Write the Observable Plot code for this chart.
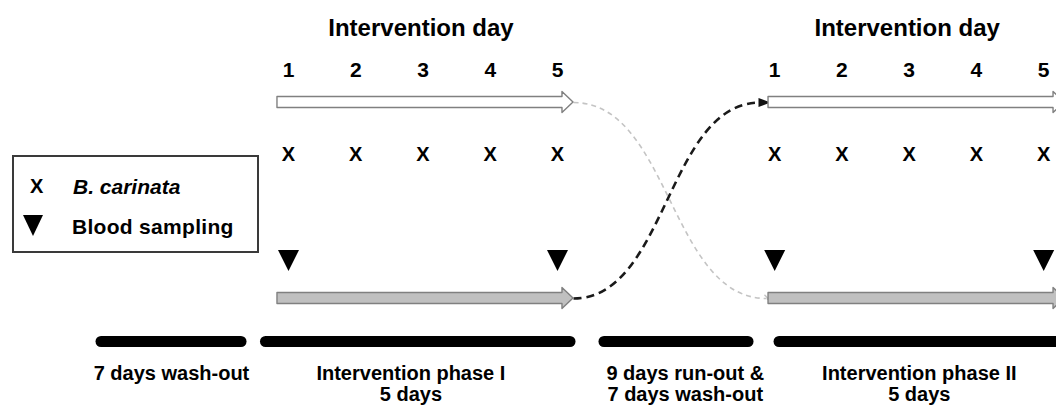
<!DOCTYPE html>
<html>
<head>
<meta charset="utf-8">
<script src="https://cdn.jsdelivr.net/npm/d3@7"></script>
<script src="https://cdn.jsdelivr.net/npm/@observablehq/plot@0.6"></script>
<style>
  body { margin: 0; background: #fff; }
  #wrap { position: relative; width: 1056px; height: 405px; overflow: hidden; background: #fff;
          font-family: "Liberation Sans", Arial, sans-serif; color: #000; }
  #chart { position: absolute; left: 0; top: 0; }
  #legend { position: absolute; left: 12px; top: 155px; width: 243px; height: 94px;
            border: 2px solid #3a3a3a; background: #fff; }
  #legend .item { position: absolute; white-space: pre; line-height: 1; }
  g[aria-label="phase-label"] text { letter-spacing: -0.4px; }
</style>
</head>
<body>
<div id="wrap">
  <div id="chart"></div>
  <div id="legend"></div>
</div>
<script>
// ---------------- DATA ----------------
const phases = ["I", "II"];
const days = [1, 2, 3, 4, 5];                  // intervention days per phase
const productDays = [1, 2, 3, 4, 5];           // B. carinata given on these days
const bloodSamplingDays = [1, 5];              // blood sampling on these days
const dayTitle = "Intervention day";
const markSymbol = "X";
const periodLabels = [
  "7 days wash-out",
  "Intervention phase I\n5 days",
  "9 days run-out &\n7 days wash-out",
  "Intervention phase II\n5 days"
];
const legendLabels = ["B. carinata", "Blood sampling"];

// ---------------- LAYOUT (schematic day units / rows) ----------------
const layout = {
  phaseOffset: [0, 7.23],                       // schematic day offset of each phase
  rows: {title: 28, day: 70, top: 102, mark: 154, blood: 260, bottom: 298, bar: 341, label: 364},
  arrowSpan: [[0.836, 5.238], [8.138, 12.54]],  // block arrows per phase
  headLen: 0.164, bodyHalf: 5.5, headHalf: 10.5,
  bars: [[-1.788, 0.294], [0.658, 5.186], [5.691, 7.833], [8.294, 12.6]],
  labelX: [-0.74, 2.82, 6.90, 10.38]
};
const R = layout.rows;
const pos = (pi, d) => d + layout.phaseOffset[pi];

// ---------------- TABLES ----------------
const dayTable = phases.flatMap((p, i) => days.map(d => ({phase: p, day: d, t: pos(i, d)})));
const markTable = phases.flatMap((p, i) => productDays.map(d => ({phase: p, t: pos(i, d)})));
const bloodTable = phases.flatMap((p, i) => bloodSamplingDays.map(d => ({phase: p, t: pos(i, d)})));
const titleTable = phases.map((p, i) => ({phase: p, t: pos(i, 3) - 0.03}));

function blockArrow(id, [a, b], cy) {
  const h = b - layout.headLen;
  return [
    {id, x: a, y1: cy - layout.bodyHalf, y2: cy + layout.bodyHalf},
    {id, x: h, y1: cy - layout.bodyHalf, y2: cy + layout.bodyHalf},
    {id, x: h, y1: cy - layout.headHalf, y2: cy + layout.headHalf},
    {id, x: b, y1: cy, y2: cy}
  ];
}
const topArrows = phases.flatMap((p, i) => blockArrow("top" + p, layout.arrowSpan[i], R.top));
const bottomArrows = phases.flatMap((p, i) => blockArrow("bot" + p, layout.arrowSpan[i], R.bottom));
const barTable = layout.bars.map(([a, b], i) => ({x1: a, x2: b, label: periodLabels[i], lx: layout.labelX[i]}));

const tipI = layout.arrowSpan[0][1], startII = layout.arrowSpan[1][0];
const crossBlack = [{x1: tipI, y1: R.bottom, x2: startII - 0.12, y2: R.top}];
const crossGray = [{x1: tipI, y1: R.top, x2: startII - 0.03, y2: R.bottom}];
const blackHead = [{x: startII - 0.06, y: R.top}];

// custom symbols
const downTriangle = {draw(ctx, size) { const r = Math.sqrt(size / Math.PI);
  ctx.moveTo(-r, -r); ctx.lineTo(r, -r); ctx.lineTo(0, r); ctx.closePath(); }};
const rightTriangle = {draw(ctx, size) { const r = Math.sqrt(size / Math.PI);
  ctx.moveTo(r, 0); ctx.lineTo(-r, -0.75 * r); ctx.lineTo(-r, 0.75 * r); ctx.closePath(); }};

const plot = Plot.plot({
  width: 1056, height: 405,
  marginTop: 0, marginRight: 0, marginBottom: 0, marginLeft: 0,
  x: {domain: [1, 5], range: [288, 557], axis: null},
  y: {domain: [0, 405], range: [0, 405], axis: null},
  style: {fontFamily: "'Liberation Sans', Arial, sans-serif", background: "transparent", overflow: "hidden"},
  marks: [
    // crossover curves
    Plot.link(crossGray, {x1: "x1", y1: "y1", x2: "x2", y2: "y2", curve: "bump-x",
      stroke: "#c4c4c4", strokeWidth: 1.6, strokeDasharray: "5,4", markerEnd: "arrow"}),
    Plot.link(crossBlack, {x1: "x1", y1: "y1", x2: "x2", y2: "y2", curve: "bump-x",
      stroke: "#1a1a1a", strokeWidth: 2.6, strokeDasharray: "8,5"}),
    Plot.dot(blackHead, {x: "x", y: "y", symbol: rightTriangle, r: 6, fill: "#111", stroke: "none"}),
    // block arrows
    Plot.areaY(topArrows, {x: "x", y1: "y1", y2: "y2", z: "id", fill: "#ffffff", stroke: "#808080", strokeWidth: 1.4}),
    Plot.areaY(bottomArrows, {x: "x", y1: "y1", y2: "y2", z: "id", fill: "#c0c0c0", stroke: "#808080", strokeWidth: 1.4}),
    // titles and day numbers
    Plot.text(titleTable, {x: "t", y: () => R.title, text: () => dayTitle, fontSize: 24, fontWeight: "bold"}),
    Plot.text(dayTable, {x: "t", y: () => R.day, text: "day", fontSize: 21, fontWeight: "bold"}),
    // product marks
    Plot.text(markTable, {x: "t", y: () => R.mark, text: () => markSymbol, fontSize: 20, fontWeight: "bold"}),
    // blood sampling
    Plot.dot(bloodTable, {x: "t", y: () => R.blood, symbol: downTriangle, r: 10.5, fill: "#000", stroke: "none"}),
    // timeline bars
    Plot.link(barTable, {x1: "x1", x2: "x2", y1: () => R.bar, y2: () => R.bar,
      stroke: "#000", strokeWidth: 11, strokeLinecap: "round"}),
    Plot.text(barTable, {x: "lx", y: () => R.label, text: "label", fontSize: 20, fontWeight: "bold",
      lineAnchor: "top", lineHeight: 1.07, ariaLabel: "phase-label"})
  ]
});
document.getElementById("chart").appendChild(plot);

// ---------------- LEGEND ----------------
const legend = document.getElementById("legend");
const items = [
  {sym: markSymbol, label: legendLabels[0], italic: true, capY: 29},
  {sym: "tri", label: legendLabels[1], italic: false, capY: 69}
];
items.forEach(it => {
  if (it.sym === "tri") {
    const s = d3.create("svg").attr("width", 20).attr("height", 21)
      .style("position", "absolute").style("left", "9px").style("top", (it.capY - 11) + "px");
    s.append("path").attr("d", "M0,0L20,0L10,21Z").attr("fill", "#000");
    legend.appendChild(s.node());
  } else {
    const d = document.createElement("div");
    d.className = "item"; d.textContent = it.sym;
    d.style.fontSize = "20px"; d.style.fontWeight = "bold"; d.style.left = "16px"; d.style.top = (it.capY - 10) + "px";
    legend.appendChild(d);
  }
  const t = document.createElement("div");
  t.className = "item"; t.textContent = it.label;
  t.style.fontSize = "21px"; t.style.fontWeight = "bold";
  if (it.italic) t.style.fontStyle = "italic";
  t.style.left = (it.italic ? 59 : 58) + "px"; t.style.top = (it.capY - 10.3) + "px";
  if (!it.italic) t.style.letterSpacing = "0.3px";
  legend.appendChild(t);
});
</script>
</body>
</html>
